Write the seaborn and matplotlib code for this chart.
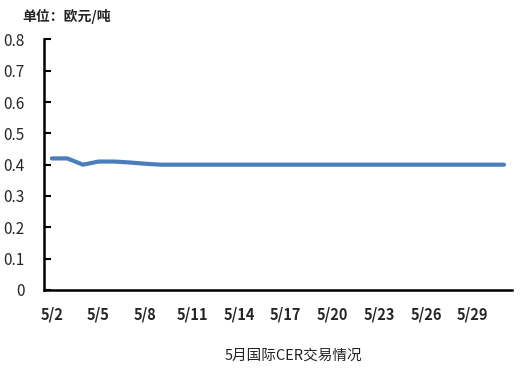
import matplotlib
matplotlib.use("Agg")
import matplotlib.pyplot as plt
import seaborn as sns
import pandas as pd

dates = [f"5/{d}" for d in range(2, 32)]
prices = [0.42, 0.42, 0.40, 0.41, 0.41, 0.407, 0.403, 0.40, 0.40, 0.40,
          0.40, 0.40, 0.40, 0.40, 0.40, 0.40, 0.40, 0.40, 0.40, 0.40,
          0.40, 0.40, 0.40, 0.40, 0.40, 0.40, 0.40, 0.40, 0.40, 0.40]
label_dates = ["5/2", "5/5", "5/8", "5/11", "5/14", "5/17", "5/20", "5/23", "5/26", "5/29"]
y_ticks = [0, 0.1, 0.2, 0.3, 0.4, 0.5, 0.6, 0.7, 0.8]

sns.set_style("white")
plt.rcParams['font.family'] = ['Noto Sans CJK SC', 'DejaVu Sans']

df = pd.DataFrame({"idx": range(len(dates)), "date": dates, "price": prices})

fig = plt.figure(figsize=(5.28, 3.76), dpi=100)
ax = fig.add_axes([0.0833, 0.229, 0.886, 0.666])
sns.lineplot(data=df, x="idx", y="price", ax=ax, color="#4a7ebb", linewidth=3.0,
             solid_capstyle="round")

ax.set_xlim(-0.5, len(dates) - 0.5)
ax.set_ylim(0, 0.8)
ax.set_yticks(y_ticks)
ax.set_yticklabels(["0"] + [f"{v:.1f}" for v in y_ticks[1:]], fontsize=11)
pos = [dates.index(d) for d in label_dates]
ax.set_xticks(pos)
ax.set_xticklabels(label_dates, fontsize=10.5, fontweight="bold")
ax.set_xticks([i - 0.5 for i in range(len(dates) + 1)], minor=True)
ax.tick_params(axis="x", which="major", length=0, pad=12)
ax.tick_params(axis="x", which="minor", direction="in", length=4, width=1.5, color="black")
ax.tick_params(axis="y", direction="in", length=5, width=1.5, color="black", pad=14, left=True)
ax.set_xlabel("")
ax.set_ylabel("")
for s in ["top", "right"]:
    ax.spines[s].set_visible(False)
for s in ["left", "bottom"]:
    ax.spines[s].set_color("black")
    ax.spines[s].set_linewidth(1.8)

fig.text(0.042, 0.955, "单位：欧元/吨", fontsize=10, fontweight="bold", ha="left", va="center")
fig.text(0.555, 0.055, "5月国际CER交易情况", fontsize=10.5, ha="center", va="center", color="#222222")

fig.savefig("out.png", dpi=100)
